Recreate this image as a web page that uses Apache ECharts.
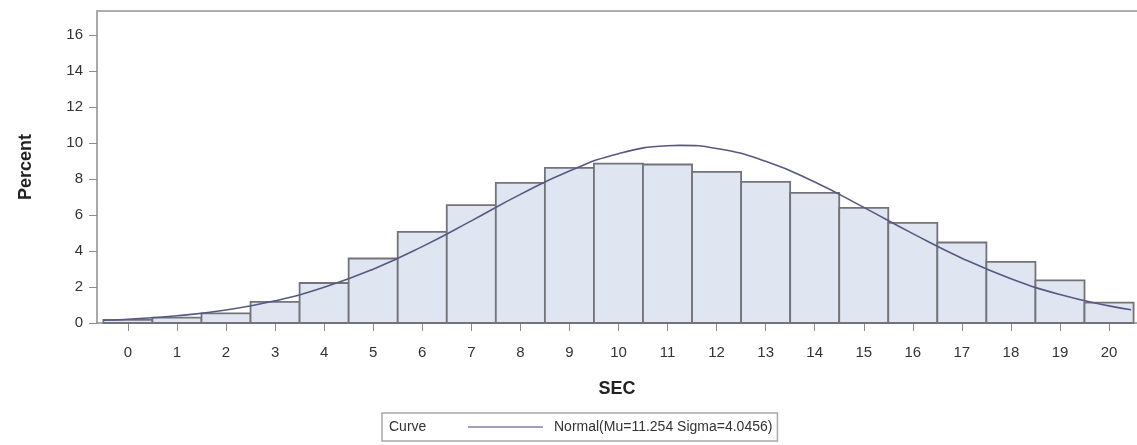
<!DOCTYPE html>
<html lang="en">
<head>
    <meta charset="UTF-8">
    <title>SEC histogram</title>
    <script src="https://cdn.jsdelivr.net/npm/echarts@6/dist/echarts.min.js"></script>
    <style>
        html, body { margin: 0; padding: 0; background: #fff; }
    </style>
</head>
<body>
<div id="histChart" style="width: 1137px;height: 445px;"></div>

<script>
    // histogram bins (SEC) and percent per bin
    let secBins = [0, 1, 2, 3, 4, 5, 6, 7, 8, 9, 10, 11, 12, 13, 14, 15, 16, 17, 18, 19, 20];
    let percentValues = [0.17, 0.3, 0.53, 1.17, 2.22, 3.58, 5.06, 6.54, 7.78, 8.61, 8.85, 8.8, 8.39, 7.83, 7.22, 6.39, 5.56, 4.47, 3.39, 2.37, 1.13];

    // fitted normal curve
    let curveX = [-0.5, 0, 1, 2, 3, 4, 5, 6, 7, 8, 9, 10, 11, 11.25, 12, 13, 14, 15, 16, 17, 18, 19, 20, 20.45];
    let curveY = [0.15, 0.21, 0.4, 0.72, 1.23, 1.98, 2.99, 4.24, 5.67, 7.14, 8.44, 9.4, 9.84, 9.86, 9.69, 8.98, 7.83, 6.42, 4.96, 3.6, 2.46, 1.58, 0.95, 0.74];

    let xTicks = [0, 1, 2, 3, 4, 5, 6, 7, 8, 9, 10, 11, 12, 13, 14, 15, 16, 17, 18, 19, 20];
    let yTicks = [0, 2, 4, 6, 8, 10, 12, 14, 16];

    let curveName = 'Normal(Mu=11.254 Sigma=4.0456)';

    let chartDom = document.getElementById('histChart');
    let myChart = echarts.init(chartDom);

    let barData = secBins.map(function (b, i) { return [b, percentValues[i]]; });
    let lineData = curveX.map(function (x, i) { return [x, curveY[i]]; });

    let labelFont = {color: '#333', fontSize: 15, fontFamily: 'Liberation Sans'};

    let option = {
        backgroundColor: '#fff',
        animation: false,
        grid: {
            left: 97,
            right: 0,
            top: 11,
            bottom: 122
        },
        xAxis: [{
            type: 'value',
            min: -0.63,
            max: 20.57,
            name: 'SEC',
            nameLocation: 'middle',
            nameGap: 57,
            nameTextStyle: {fontSize: 18, fontWeight: 'bold', color: '#222', fontFamily: 'Liberation Sans'},
            axisLine: {show: true, onZero: false, lineStyle: {color: '#8c8c8c', width: 1.5}},
            axisTick: {show: true, length: 8, customValues: xTicks, lineStyle: {color: '#8c8c8c'}},
            axisLabel: Object.assign({margin: 22, customValues: xTicks}, labelFont),
            splitLine: {show: false}
        }, {
            // top frame line only
            type: 'value',
            position: 'top',
            min: -0.63,
            max: 20.57,
            axisLine: {show: true, onZero: false, lineStyle: {color: '#b0abab', width: 2}},
            axisTick: {show: false},
            axisLabel: {show: false},
            splitLine: {show: false}
        }],
        yAxis: {
            type: 'value',
            min: 0,
            max: 17.32,
            name: 'Percent',
            nameLocation: 'middle',
            nameGap: 62,
            nameRotate: 90,
            nameTextStyle: {fontSize: 18, fontWeight: 'bold', color: '#222', fontFamily: 'Liberation Sans'},
            axisLine: {show: true, onZero: false, lineStyle: {color: '#8c8c8c', width: 1.5}},
            axisTick: {show: true, length: 8, customValues: yTicks, lineStyle: {color: '#8c8c8c'}},
            axisLabel: Object.assign({margin: 14, customValues: yTicks}, labelFont),
            splitLine: {show: false}
        },
        legend: {
            left: 382,
            top: 413,
            padding: [7, 5, 7, 86],
            borderColor: '#a8a8a8',
            borderWidth: 1.5,
            itemWidth: 75,
            itemHeight: 14,
            data: [{name: curveName, icon: 'path://M0,6 L75,6 L75,8 L0,8 Z'}],
            itemStyle: {color: '#9fa2bf'},
            textStyle: {color: '#333', fontSize: 14, fontFamily: 'Liberation Sans', padding: [0, 0, 0, 6]}
        },
        graphic: [{
            type: 'text',
            left: 389,
            top: 420,
            style: {text: 'Curve', fill: '#333', fontSize: 14, fontFamily: 'Liberation Sans'}
        }],
        series: [{
            type: 'custom',
            name: 'bins',
            data: barData,
            renderItem: function (params, api) {
                let x = api.value(0);
                let y = api.value(1);
                let p0 = api.coord([x - 0.5, y]);
                let p1 = api.coord([x + 0.5, 0]);
                return {
                    type: 'rect',
                    shape: {x: p0[0], y: p0[1], width: p1[0] - p0[0], height: p1[1] - p0[1]},
                    style: {fill: '#dfe6f1', stroke: '#737379', lineWidth: 1.8}
                };
            },
            z: 2
        }, {
            type: 'line',
            name: curveName,
            data: lineData,
            smooth: true,
            symbol: 'none',
            lineStyle: {color: '#565a82', width: 1.6},
            itemStyle: {color: '#565a82'},
            z: 3
        }]
    };
    myChart.setOption(option);
</script>
</body>
</html>
